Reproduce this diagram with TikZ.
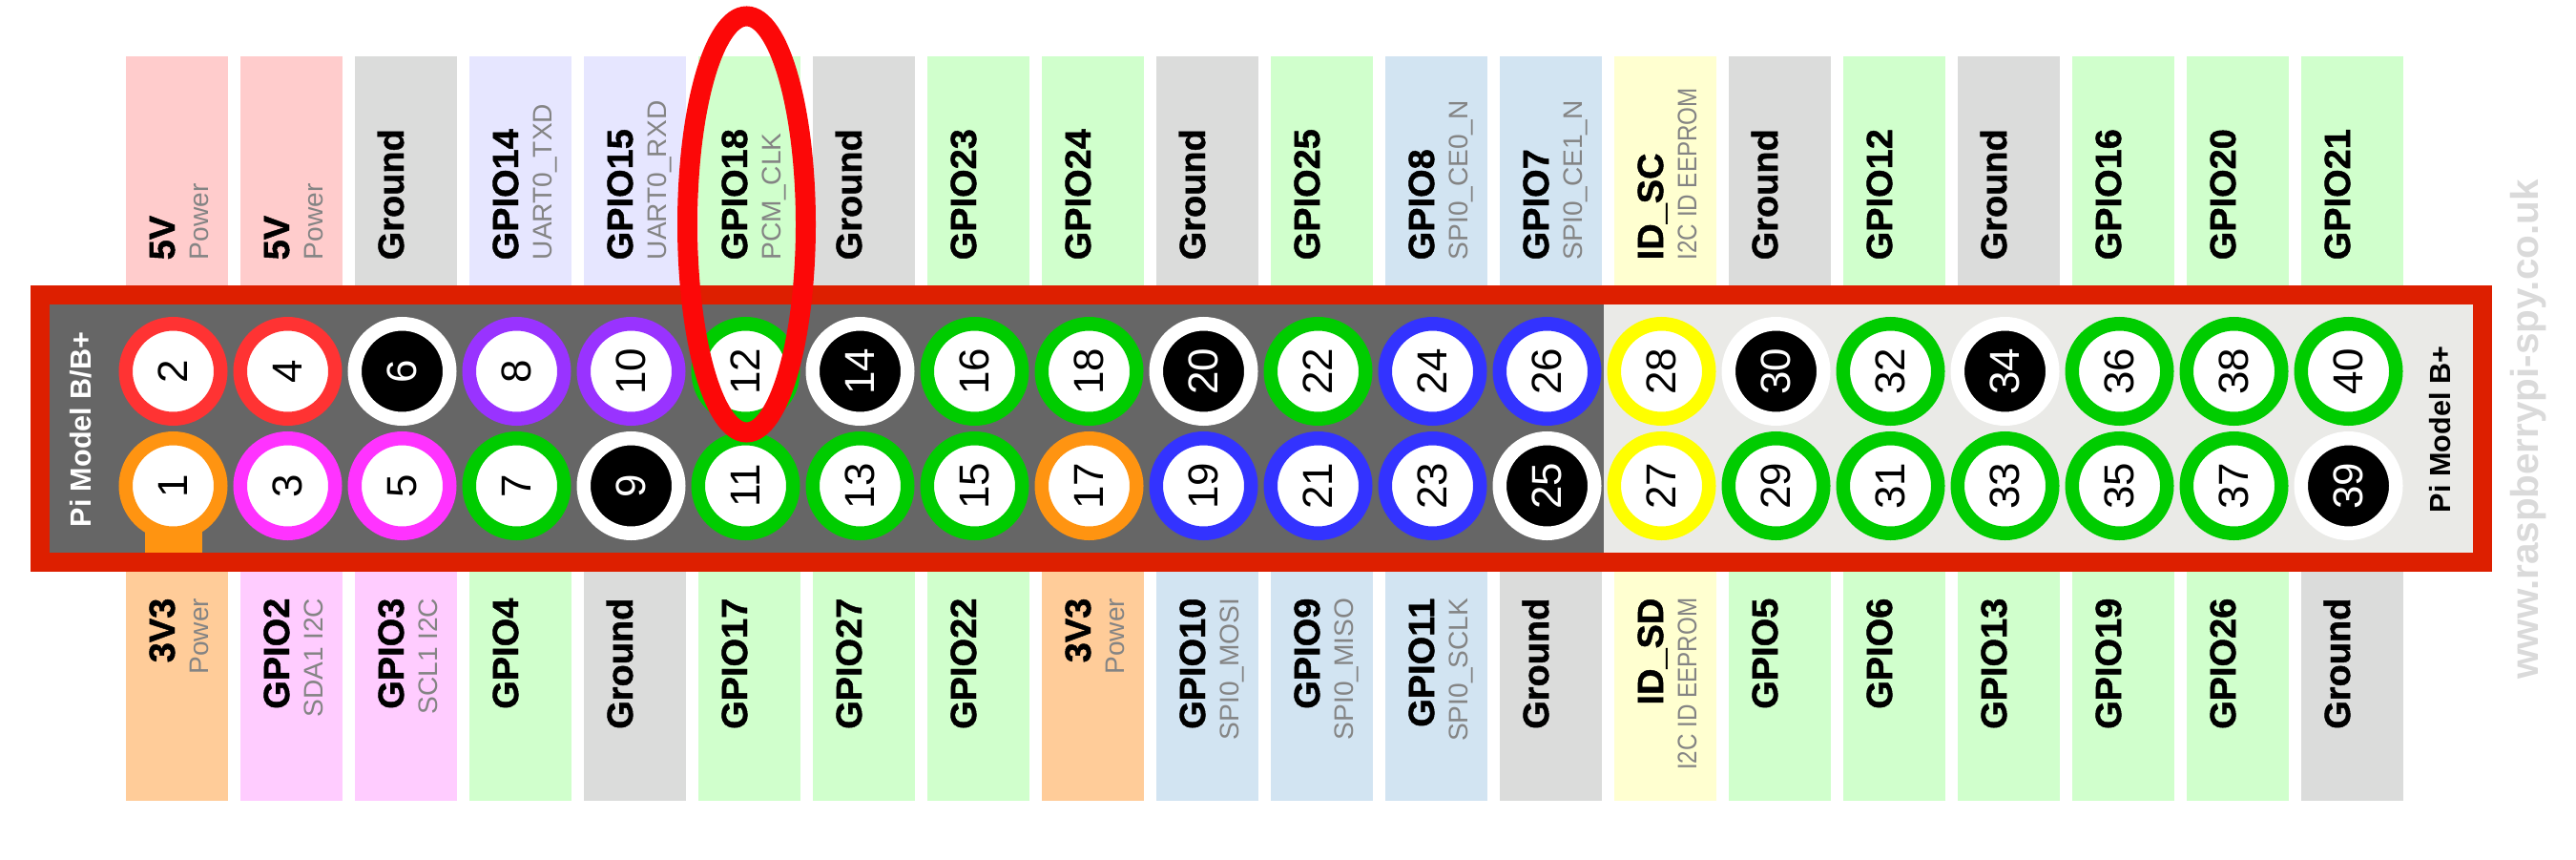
\documentclass[tikz,border=0pt]{standalone}
\usepackage{fontspec}
\setmainfont{Liberation Sans}
\newfontfamily\heavyfont{Liberation Sans}[UprightFont=*-Bold, FakeBold=1.2]
\usepackage{xcolor,graphicx}
\definecolor{pcbred}{RGB}{221,31,0}
\definecolor{pcbdark}{RGB}{102,102,102}
\definecolor{pcblight}{RGB}{234,234,231}
\definecolor{hlred}{RGB}{252,8,8}
\definecolor{pired}{RGB}{255,51,51}
\definecolor{piorange}{RGB}{255,148,17}
\definecolor{pimagenta}{RGB}{255,51,255}
\definecolor{pipurple}{RGB}{153,51,255}
\definecolor{pigreen}{RGB}{0,204,0}
\definecolor{piblue}{RGB}{51,51,255}
\definecolor{piyellow}{RGB}{255,255,0}
\definecolor{tagpink}{RGB}{255,204,204}
\definecolor{tagpeach}{RGB}{255,204,153}
\definecolor{taglilac}{RGB}{255,204,255}
\definecolor{taglavender}{RGB}{230,230,255}
\definecolor{taggreen}{RGB}{208,255,204}
\definecolor{taggrey}{RGB}{219,220,219}
\definecolor{tagblue}{RGB}{210,228,242}
\definecolor{tagyellow}{RGB}{255,255,208}
\definecolor{subgrey}{RGB}{132,132,132}
\definecolor{wmgrey}{RGB}{218,218,218}
\usepackage{tikz}
\tikzset{
  hole/.style={circle, line width=1.45mm, minimum size=9.95mm, inner sep=0pt, fill=white, text=black, rotate=90, font=\fontsize{12.5}{14}\selectfont},
  hole pwr/.style={draw=pired},
  hole v3/.style={draw=piorange},
  hole i2c/.style={draw=pimagenta},
  hole uart/.style={draw=pipurple},
  hole gpio/.style={draw=pigreen},
  hole spi/.style={draw=piblue},
  hole eep/.style={draw=piyellow},
  hole gnd/.style={draw=white, fill=black, text=white},
  tag/.style={minimum width=1.07cm, minimum height=2.4cm, inner sep=0pt},
  tag pwr/.style={fill=tagpink},
  tag v3/.style={fill=tagpeach},
  tag i2c/.style={fill=taglilac},
  tag uart/.style={fill=taglavender},
  tag gpio/.style={fill=taggreen},
  tag spi/.style={fill=tagblue},
  tag eep/.style={fill=tagyellow},
  tag gnd/.style={fill=taggrey},
  mainlbl/.style={rotate=90, inner sep=0pt, font=\heavyfont\fontsize{10.8}{12}\selectfont},
  sublbl/.style={rotate=90, inner sep=0pt, text=subgrey, font=\fontsize{8}{9}\selectfont}
}
\newcommand{\eeprom}{\scalebox{0.86}[1]{I2C ID EEPROM}}

\begin{document}
\begin{tikzpicture}
  \fill[white] (0,0) rectangle (27,9);
  \useasboundingbox (0,0) rectangle (27,9);

  %--- Header board ---
  \fill[pcbred] (0.32,3.01) rectangle (26.12,6.01);
  \fill[pcbdark] (0.52,3.21) rectangle (16.81,5.81);
  \fill[pcblight] (16.81,3.21) rectangle (25.92,5.81);
  \fill[piorange] (1.515,3.21) rectangle (2.115,3.91);

  %--- Top row: even pins ---
  \foreach \t/\m/\s [count=\i from 0] in {pwr/5V/Power, pwr/5V/Power, gnd/Ground/, uart/GPIO14/UART0\_TXD, uart/GPIO15/UART0\_RXD, gpio/GPIO18/PCM\_CLK, gnd/Ground/, gpio/GPIO23/, gpio/GPIO24/, gnd/Ground/, gpio/GPIO25/, spi/GPIO8/SPI0\_CE0\_N, spi/GPIO7/SPI0\_CE1\_N, eep/ID\_SC/\eeprom, gnd/Ground/, gpio/GPIO12/, gnd/Ground/, gpio/GPIO16/, gpio/GPIO20/, gpio/GPIO21/}{
    \pgfmathsetmacro\x{1.85+1.2*\i}
    \pgfmathtruncatemacro\n{2*\i+2}
    \node[tag, tag \t] (tt\n) at (\x,7.21) {};
    \node[mainlbl, anchor=base west] (tm\n) at (\x-0.02,6.27) {\m};
    \node[sublbl, anchor=base west] (ts\n) at (\x+0.33,6.27) {\s};
    \node[hole, hole \t] (p\n) at (\x-0.035,5.11) {\n};
  }

  %--- Bottom row: odd pins ---
  \foreach \t/\m/\s [count=\i from 0] in {v3/3V3/Power, i2c/GPIO2/SDA1 I2C, i2c/GPIO3/SCL1 I2C, gpio/GPIO4/, gnd/Ground/, gpio/GPIO17/, gpio/GPIO27/, gpio/GPIO22/, v3/3V3/Power, spi/GPIO10/SPI0\_MOSI, spi/GPIO9/SPI0\_MISO, spi/GPIO11/SPI0\_SCLK, gnd/Ground/, eep/ID\_SD/\eeprom, gpio/GPIO5/, gpio/GPIO6/, gpio/GPIO13/, gpio/GPIO19/, gpio/GPIO26/, gnd/Ground/}{
    \pgfmathsetmacro\x{1.85+1.2*\i}
    \pgfmathtruncatemacro\n{2*\i+1}
    \node[tag, tag \t] (bt\n) at (\x,1.815) {};
    \node[mainlbl, anchor=base east] (bm\n) at (\x-0.02,2.74) {\m};
    \node[sublbl, anchor=base east] (bs\n) at (\x+0.33,2.74) {\s};
    \node[hole, hole \t] (p\n) at (\x-0.035,3.91) {\n};
  }

  %--- Model names and site ---
  \node[rotate=90, text=white, font=\bfseries\fontsize{8.7}{10}\selectfont] (modelA) at (0.85,4.5) {Pi Model B/B+};
  \node[rotate=90, font=\bfseries\fontsize{8.7}{10}\selectfont] (modelB) at (25.58,4.5) {Pi Model B+};
  \node[rotate=90, text=wmgrey, font=\bfseries\fontsize{11.5}{12}\selectfont] (site) at (26.5,4.5) {www.raspberrypi-spy.co.uk};

  % Highlight round pin 12
  \draw[hlred, line width=2.1mm] (p12) ++(0.01,1.54) ellipse [x radius=0.62cm, y radius=2.18cm];
\end{tikzpicture}
\end{document}
